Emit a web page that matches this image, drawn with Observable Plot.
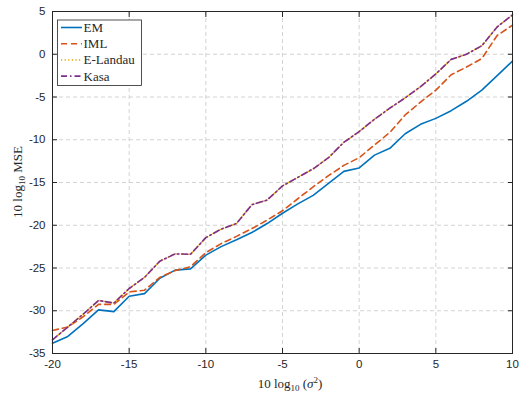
<!DOCTYPE html>
<html>
<head>
<meta charset="utf-8">
<script src="https://cdn.jsdelivr.net/npm/d3@7"></script>
<script src="https://cdn.jsdelivr.net/npm/@observablehq/plot@0.6"></script>
<style>
  html, body { margin: 0; padding: 0; background: white; }
  #chart { position: relative; width: 519px; height: 394px; }
</style>
</head>
<body>
<div id="chart"></div>
<script>
const snr = [-20,-19,-18,-17,-16,-15,-14,-13,-12,-11,-10,-9,-8,-7,-6,-5,-4,-3,-2,-1,0,1,2,3,4,5,6,7,8,9,10];
const emMSE = [-33.8,-33.0,-31.5,-29.9,-30.1,-28.3,-28.0,-26.2,-25.25,-25.1,-23.5,-22.5,-21.7,-20.85,-19.8,-18.6,-17.5,-16.5,-15.1,-13.7,-13.3,-11.8,-11.0,-9.3,-8.2,-7.5,-6.6,-5.5,-4.2,-2.5,-0.8];
const imlMSE = [-32.3,-31.9,-30.7,-29.25,-29.25,-27.8,-27.6,-26.1,-25.3,-24.85,-23.2,-22.15,-21.3,-20.4,-19.4,-18.3,-16.9,-15.5,-14.2,-13.0,-12.1,-10.6,-9.15,-7.1,-5.6,-4.2,-2.4,-1.5,-0.5,2.2,3.4];
const elandauMSE = [-33.4,-31.9,-30.4,-28.8,-29.1,-27.4,-26.1,-24.2,-23.35,-23.4,-21.45,-20.45,-19.8,-17.6,-17.05,-15.4,-14.4,-13.4,-12.1,-10.3,-9.05,-7.6,-6.3,-5.1,-3.8,-2.3,-0.6,0.0,1.0,3.2,4.6];
const kasaMSE = [-33.4,-31.9,-30.4,-28.8,-29.1,-27.4,-26.1,-24.2,-23.35,-23.4,-21.45,-20.45,-19.8,-17.6,-17.05,-15.4,-14.4,-13.4,-12.1,-10.3,-9.05,-7.6,-6.3,-5.1,-3.8,-2.3,-0.6,0.0,1.0,3.2,4.6];
const xTicks = [-20,-15,-10,-5,0,5,10];
const yTicks = [-35,-30,-25,-20,-15,-10,-5,0,5];

const seriesDefs = [
  {name: "EM", values: emMSE, color: "#0072BD", dash: null, width: 1.6},
  {name: "IML", values: imlMSE, color: "#D95319", dash: "6,4", width: 1.6},
  {name: "E-Landau", values: elandauMSE, color: "#EDB120", dash: "1.2,2.4", width: 1.6},
  {name: "Kasa", values: kasaMSE, color: "#7E2F8E", dash: "6,3,1.5,3", width: 1.6}
];
const rows = seriesDefs.flatMap(s => snr.map((x, i) => ({x, y: s.values[i], name: s.name})));

const gridStyle = {stroke: "#c8c8c8", strokeOpacity: 1, strokeDasharray: "4,3", strokeWidth: 0.8};
const fmt = d => String(d);

const svg = Plot.plot({
  width: 519, height: 394,
  marginLeft: 52, marginRight: 7, marginTop: 11, marginBottom: 41,
  style: {fontFamily: "'Liberation Sans', Arial, sans-serif", fontSize: "11.5px", color: "#262626", background: "white"},
  x: {domain: [-20, 10]},
  y: {domain: [-35, 5]},
  marks: [
    Plot.gridX(xTicks, gridStyle),
    Plot.gridY(yTicks, gridStyle),
    ...seriesDefs.map(s => Plot.line(rows.filter(r => r.name === s.name), {
      x: "x", y: "y", stroke: s.color, strokeWidth: s.width,
      strokeDasharray: s.dash, strokeLinejoin: "round"
    })),
    Plot.axisX(xTicks, {anchor: "bottom", tickSize: -5, tickPadding: 11, tickFormat: fmt, label: null}),
    Plot.axisX(xTicks, {anchor: "top", tickSize: -5, tickFormat: () => "", label: null}),
    Plot.axisY(yTicks, {anchor: "left", tickSize: -5, tickPadding: 12, tickFormat: fmt, label: null}),
    Plot.axisY(yTicks, {anchor: "right", tickSize: -5, tickFormat: () => "", label: null}),
    Plot.frame({stroke: "#262626", strokeWidth: 1})
  ]
});
document.getElementById("chart").appendChild(svg);

const s = d3.select(svg);
const serif = "'Liberation Serif', 'DejaVu Serif', serif";

// x label
const xl = s.append("text").attr("x", 290).attr("y", 388).attr("text-anchor", "middle")
  .attr("font-family", serif).attr("font-size", 13).attr("fill", "#262626");
xl.append("tspan").text("10 log");
xl.append("tspan").attr("font-size", 9).attr("dy", 3).text("10");
xl.append("tspan").attr("dy", -3).text(" (");
xl.append("tspan").attr("font-style", "italic").text("σ");
xl.append("tspan").attr("font-size", 9).attr("dy", -5).text("2");
xl.append("tspan").attr("dy", 5).text(")");

// y label
const yl = s.append("text").attr("transform", "translate(22,182) rotate(-90)").attr("text-anchor", "middle")
  .attr("font-family", serif).attr("font-size", 13).attr("fill", "#262626");
yl.append("tspan").text("10 log");
yl.append("tspan").attr("font-size", 9).attr("dy", 3).text("10");
yl.append("tspan").attr("dy", -3).text(" MSE");

// legend
const lg = s.append("g");
lg.append("rect").attr("x", 57.5).attr("y", 20).attr("width", 84).attr("height", 65.5)
  .attr("fill", "white").attr("stroke", "#262626").attr("stroke-width", 0.8);
seriesDefs.forEach((d, i) => {
  const cy = 27.5 + i * 16.2;
  lg.append("line").attr("x1", 61).attr("x2", 82).attr("y1", cy).attr("y2", cy)
    .attr("stroke", d.color).attr("stroke-width", d.width)
    .attr("stroke-dasharray", d.dash);
  lg.append("text").attr("x", 83.5).attr("y", cy).attr("dy", "0.35em").attr("text-anchor", "start")
    .attr("font-family", serif).attr("font-size", 13).attr("fill", "#262626").text(d.name);
});
</script>
</body>
</html>
